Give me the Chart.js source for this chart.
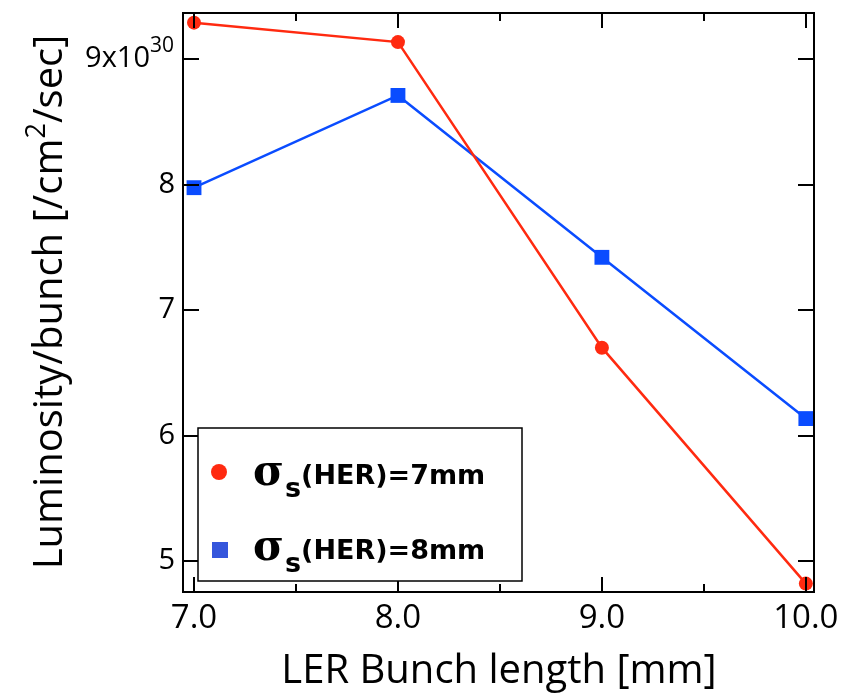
<!DOCTYPE html>
<html lang="en">
<head>
<meta charset="UTF-8">
<title>Luminosity vs LER bunch length</title>
<script src="https://cdn.jsdelivr.net/npm/chart.js@4.4.0/dist/chart.umd.min.js"></script>
<style>
  html, body { margin: 0; padding: 0; background: #fff; }
  canvas { display: block; }
</style>
</head>
<body>
<canvas id="chart" width="842" height="693"></canvas>

<script>
    // data
    const bunchLength = [7.0, 8.0, 9.0, 10.0];
    const lumHER7 = [9.29, 9.135, 6.70, 4.82];
    const lumHER8 = [7.975, 8.71, 7.42, 6.135];
    const xTicks = [7.0, 8.0, 9.0, 10.0];
    const xMinorTicks = [7.5, 8.5, 9.5];
    const xTickLabels = ['7.0', '8.0', '9.0', '10.0'];
    const yTicks = [5, 6, 7, 8, 9];
    const seriesNames = ['(HER)=7mm', '(HER)=8mm'];

    const RED = '#ff2a10';
    const BLUE = '#0a4cff';
    const LEGEND_BLUE = '#3556dc';
    const FONT = '"Open Sans", sans-serif';

    function toPoints(xs, ys) {
        return xs.map((x, i) => ({ x: x, y: ys[i] }));
    }

    // frame, inward ticks, labels, titles and legend
    const decorations = {
        id: 'decorations',
        afterDraw(chart) {
            const ctx = chart.ctx;
            const a = chart.chartArea;
            const xs = chart.scales.x;
            const ys = chart.scales.y;
            ctx.save();
            ctx.strokeStyle = '#000';
            ctx.fillStyle = '#000';
            ctx.lineWidth = 2;
            ctx.strokeRect(a.left, a.top, a.right - a.left, a.bottom - a.top);

            ctx.beginPath();
            xTicks.forEach(v => {
                const px = Math.round(xs.getPixelForValue(v));
                ctx.moveTo(px, a.bottom); ctx.lineTo(px, a.bottom - 15);
                ctx.moveTo(px, a.top); ctx.lineTo(px, a.top + 15);
            });
            xMinorTicks.forEach(v => {
                const px = Math.round(xs.getPixelForValue(v));
                ctx.moveTo(px, a.bottom); ctx.lineTo(px, a.bottom - 8);
                ctx.moveTo(px, a.top); ctx.lineTo(px, a.top + 8);
            });
            yTicks.forEach(v => {
                const py = Math.round(ys.getPixelForValue(v));
                ctx.moveTo(a.left, py); ctx.lineTo(a.left + 16, py);
                ctx.moveTo(a.right, py); ctx.lineTo(a.right - 16, py);
            });
            ctx.stroke();

            // x tick labels
            ctx.font = '33px ' + FONT;
            ctx.textAlign = 'center';
            ctx.textBaseline = 'middle';
            xTicks.forEach((v, i) => {
                ctx.fillText(xTickLabels[i], xs.getPixelForValue(v), a.bottom + 27);
            });

            // y tick labels
            ctx.textAlign = 'right';
            yTicks.forEach(v => {
                const py = ys.getPixelForValue(v);
                if (v === 9) {
                    ctx.font = '21px ' + FONT;
                    const sup = '30';
                    const sw = ctx.measureText(sup).width;
                    ctx.fillText(sup, a.left - 9, py - 13);
                    ctx.font = '29px ' + FONT;
                    ctx.fillText('9x10', a.left - 9 - sw, py);
                } else {
                    ctx.font = '29px ' + FONT;
                    ctx.fillText(String(v), a.left - 8, py);
                }
            });

            // x title
            ctx.font = '40px ' + FONT;
            ctx.textAlign = 'center';
            ctx.textBaseline = 'alphabetic';
            ctx.fillText('LER Bunch length [mm]', 499, 683);

            // y title with superscript
            ctx.save();
            ctx.translate(62, 302);
            ctx.rotate(-Math.PI / 2);
            ctx.textAlign = 'left';
            const p1 = 'Luminosity/bunch [/cm';
            const p2 = '2';
            const p3 = '/sec]';
            ctx.font = '40px ' + FONT;
            const w1 = ctx.measureText(p1).width;
            const w3 = ctx.measureText(p3).width;
            ctx.font = '27px ' + FONT;
            const w2 = ctx.measureText(p2).width;
            const x0 = -(w1 + w2 + w3) / 2;
            ctx.font = '40px ' + FONT;
            ctx.fillText(p1, x0, 0);
            ctx.font = '27px ' + FONT;
            ctx.fillText(p2, x0 + w1, -17);
            ctx.font = '40px ' + FONT;
            ctx.fillText(p3, x0 + w1 + w2, 0);
            ctx.restore();

            // legend box
            const lb = { left: 198, top: 428, right: 522, bottom: 581 };
            ctx.fillStyle = '#fff';
            ctx.fillRect(lb.left, lb.top, lb.right - lb.left, lb.bottom - lb.top);
            ctx.lineWidth = 1.5;
            ctx.strokeRect(lb.left, lb.top, lb.right - lb.left, lb.bottom - lb.top);

            const baselines = [484, 559];
            baselines.forEach((by, i) => {
                if (i === 0) {
                    ctx.fillStyle = RED;
                    ctx.beginPath();
                    ctx.arc(219, by - 12, 8, 0, Math.PI * 2);
                    ctx.fill();
                } else {
                    ctx.fillStyle = LEGEND_BLUE;
                    ctx.fillRect(212, by - 17, 16, 16);
                }
                ctx.fillStyle = '#000';
                ctx.textAlign = 'left';
                ctx.font = 'bold 42px "DejaVu Serif", serif';
                ctx.fillText('\u03c3', 253, by + 1);
                const sx = 253 + ctx.measureText('\u03c3').width + 1;
                ctx.font = 'bold 27px "DejaVu Sans", sans-serif';
                ctx.fillText('s', sx, by + 13);
                const tx = sx + ctx.measureText('s').width;
                ctx.fillText(seriesNames[i], tx, by);
            });
            ctx.restore();
        }
    };

    new Chart(document.getElementById('chart'), {
        type: 'line',
        data: {
            datasets: [{
                label: seriesNames[0],
                data: toPoints(bunchLength, lumHER7),
                borderColor: RED,
                backgroundColor: RED,
                borderWidth: 2.5,
                pointStyle: 'circle',
                pointRadius: 7,
                pointHoverRadius: 7,
                pointBorderWidth: 0,
                tension: 0
            }, {
                label: seriesNames[1],
                data: toPoints(bunchLength, lumHER8),
                borderColor: BLUE,
                backgroundColor: BLUE,
                borderWidth: 2.5,
                pointStyle: 'rect',
                pointRadius: 10.5,
                pointHoverRadius: 10.5,
                pointBorderWidth: 0,
                tension: 0
            }]
        },
        options: {
            responsive: false,
            animation: false,
            layout: { padding: { left: 183, top: 13, right: 28, bottom: 101 } },
            plugins: {
                legend: { display: false },
                tooltip: { enabled: false }
            },
            scales: {
                x: {
                    type: 'linear',
                    min: 6.946,
                    max: 10.04,
                    display: false
                },
                y: {
                    type: 'linear',
                    min: 4.753,
                    max: 9.367,
                    display: false
                }
            }
        },
        plugins: [decorations]
    });
</script>
</body>
</html>
